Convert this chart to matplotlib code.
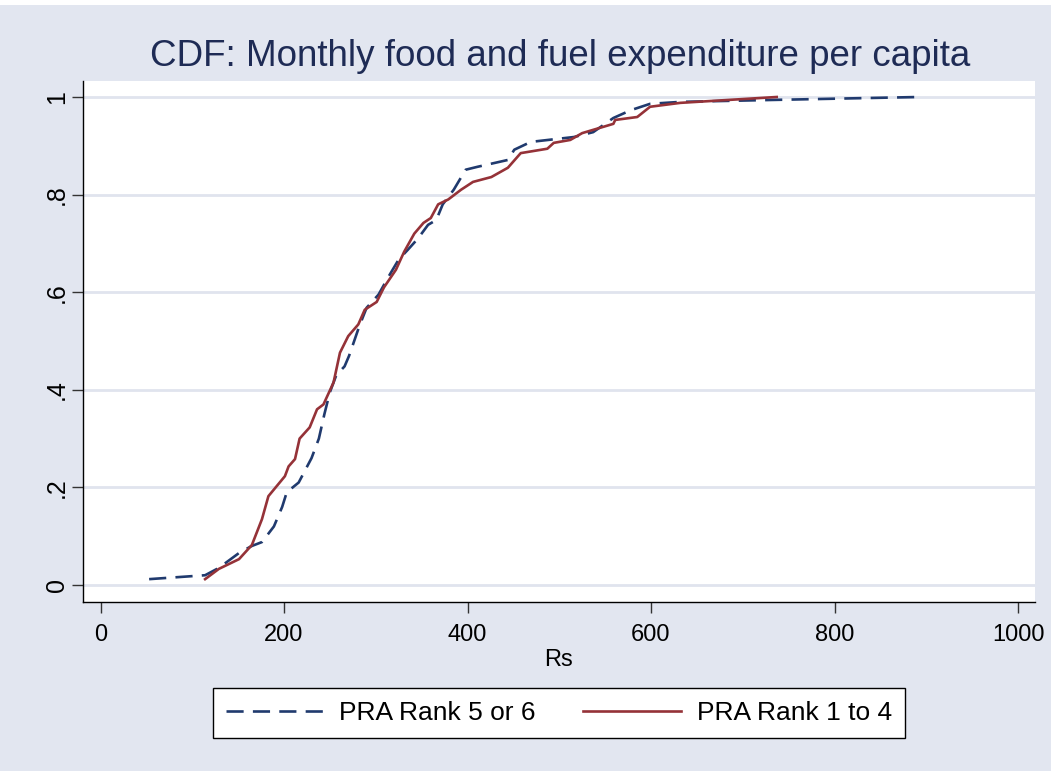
import matplotlib
matplotlib.use("Agg")
import matplotlib.pyplot as plt
from matplotlib.patches import Rectangle

# ---- data ----
rank56_x = [53, 114, 129, 152, 165, 176, 189, 198, 203, 216, 230, 238, 244, 250,
            257, 266, 271, 282, 290, 303, 314, 325, 335, 346, 357, 366, 373, 385,
            398, 411, 444, 451, 469, 516, 537, 559, 578, 599, 632, 733, 892]
rank56_y = [0.012, 0.020, 0.035, 0.067, 0.080, 0.088, 0.120, 0.160, 0.190, 0.210,
            0.260, 0.300, 0.350, 0.395, 0.430, 0.448, 0.470, 0.530, 0.568, 0.595,
            0.632, 0.667, 0.687, 0.710, 0.738, 0.748, 0.780, 0.810, 0.851, 0.857,
            0.871, 0.892, 0.908, 0.918, 0.928, 0.957, 0.973, 0.986, 0.990, 0.994, 1.0]

rank14_x = [114, 129, 151, 165, 176, 183, 201, 205, 212, 217, 228, 236, 243, 254,
            261, 270, 281, 288, 301, 309, 322, 331, 342, 352, 360, 368, 379, 393,
            406, 426, 444, 458, 487, 494, 512, 525, 559, 561, 585, 599, 632, 737]
rank14_y = [0.012, 0.033, 0.053, 0.082, 0.135, 0.182, 0.223, 0.243, 0.258, 0.300,
            0.323, 0.360, 0.370, 0.415, 0.476, 0.510, 0.534, 0.564, 0.580, 0.610,
            0.646, 0.683, 0.720, 0.742, 0.752, 0.780, 0.790, 0.810, 0.826, 0.836,
            0.855, 0.885, 0.894, 0.906, 0.912, 0.926, 0.945, 0.953, 0.959, 0.980,
            0.988, 1.0]

xticks = [0, 200, 400, 600, 800, 1000]
xticklabels = ["0", "200", "400", "600", "800", "1000"]
yticks = [0, 0.2, 0.4, 0.6, 0.8, 1.0]
yticklabels = ["0", ".2", ".4", ".6", ".8", "1"]

title = "CDF: Monthly food and fuel expenditure per capita"
xlabel = "Rs"
labels = ["PRA Rank 5 or 6", "PRA Rank 1 to 4"]

# ---- style ----
plt.rcParams['font.family'] = ['Liberation Sans', 'DejaVu Sans']
BG = "#e2e6f0"
NAVY = "#203a6e"
MAROON = "#953238"
GRID = "#e0e4ee"

fig = plt.figure(figsize=(10.56, 7.71), dpi=100, facecolor=BG)
W, H = 1056, 771
ax = fig.add_axes([83 / W, 1 - 602 / H, (1035 - 83) / W, (602 - 81) / H])
ax.set_facecolor("white")

# white strips at top and right of the image
fig.patches.append(Rectangle((0, 1 - 5 / H), 1, 5 / H, transform=fig.transFigure,
                             facecolor="white", edgecolor="none", zorder=-1))
fig.patches.append(Rectangle((1 - 5 / W, 0), 5 / W, 1, transform=fig.transFigure,
                             facecolor="white", edgecolor="none", zorder=-1))

ln1, = ax.plot(rank56_x, rank56_y, color=NAVY, lw=1.9, dashes=(6.5, 3.5),
               solid_capstyle="butt", dash_capstyle="butt", zorder=3)
ln2, = ax.plot(rank14_x, rank14_y, color=MAROON, lw=1.9, zorder=4)

x0 = 100.5
xs = 0.9175
ax.set_xlim((83 - x0) / xs, (1035 - x0) / xs)
ax.set_ylim((585 - 602) / 488, (585 - 81) / 488)

ax.set_xticks(xticks)
ax.set_xticklabels(xticklabels)
ax.set_yticks(yticks)
ax.set_yticklabels(yticklabels, rotation=90, va="center")

ax.tick_params(axis="both", direction="out", length=8, width=1.0, color="#333333",
               labelcolor="black")
ax.tick_params(axis="x", pad=8, labelsize=17)
ax.tick_params(axis="y", pad=2, labelsize=18)

ax.yaxis.grid(True, color=GRID, lw=2.0, zorder=0)
ax.xaxis.grid(False)
ax.set_axisbelow(True)

for s in ["top", "right"]:
    ax.spines[s].set_visible(False)
for s in ["left", "bottom"]:
    ax.spines[s].set_color("black")
    ax.spines[s].set_linewidth(1.0)

ax.set_xlabel(xlabel, fontsize=17, labelpad=2)
fig.text(560 / W, 1 - 57 / H, title, ha="center", va="center", fontsize=26.5,
         color="#1e2b55")

leg = fig.legend([ln1, ln2], labels, ncol=2, loc="center",
                 bbox_to_anchor=(559 / W, 1 - 713 / H), fontsize=19,
                 frameon=True, fancybox=False, framealpha=1.0,
                 handlelength=3.7, handletextpad=0.6, columnspacing=1.8,
                 borderpad=0.5, borderaxespad=0)
leg.get_frame().set_edgecolor("black")
leg.get_frame().set_linewidth(1.0)
leg.get_frame().set_facecolor("white")

fig.savefig("out.png", dpi=100, facecolor=BG)
